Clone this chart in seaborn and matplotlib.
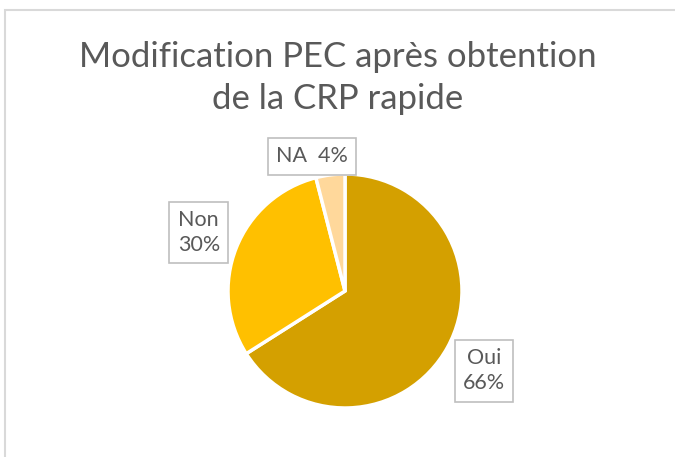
import matplotlib.pyplot as plt
import matplotlib.patches as mpatches
import seaborn as sns

# ===========================
# Data
# ===========================
labels = ["Oui", "Non", "NA"]
values = [66, 30, 4]
label_texts = ["Oui\n66%", "Non\n30%", "NA  4%"]
colors = ["#D4A000", "#FFC000", "#FFD89B"]

title = "Modification PEC après obtention\nde la CRP rapide"

# ===========================
# Style
# ===========================
sns.set_theme(style="white")
plt.rcParams["font.family"] = ["Lato", "DejaVu Sans"]
TEXT_COLOR = "#595959"

W, H = 675, 457
fig = plt.figure(figsize=(W / 100, H / 100), dpi=100)

# chart area border (continues past right/bottom edges)
fig.patches.append(mpatches.Rectangle((5 / W, -0.5), 5.0, (H - 10) / H + 0.5,
                                      transform=fig.transFigure, fill=False,
                                      edgecolor="#D9D9D9", linewidth=1.5))

# pie axes: center (345, 291), radius 117 px
cx, cy, r = 345, 291, 117
ax = fig.add_axes([(cx - r) / W, (H - cy - r) / H, 2 * r / W, 2 * r / H])
wedges, _ = ax.pie(values, colors=colors, startangle=90, counterclock=False,
                   wedgeprops=dict(edgecolor="white", linewidth=2.5), radius=1)
ax.set_xlim(-1, 1)
ax.set_ylim(-1, 1)
ax.set_aspect("equal")
ax.axis("off")

# data label callouts
label_pos = [(1.19, -0.68), (-1.25, 0.50), (-0.28, 1.15)]
for txt, (x, y) in zip(label_texts, label_pos):
    ax.text(x, y, txt, ha="center", va="center", fontsize=15.5, color=TEXT_COLOR,
            linespacing=1.35, clip_on=False,
            bbox=dict(boxstyle="square,pad=0.38", facecolor="white",
                      edgecolor="#BFBFBF", linewidth=1.2))

fig.text(0.5, 1 - 78 / H, title, ha="center", va="center", fontsize=25,
         color=TEXT_COLOR, linespacing=1.35)

fig.savefig("out.png", dpi=100, facecolor="white")
plt.close(fig)
